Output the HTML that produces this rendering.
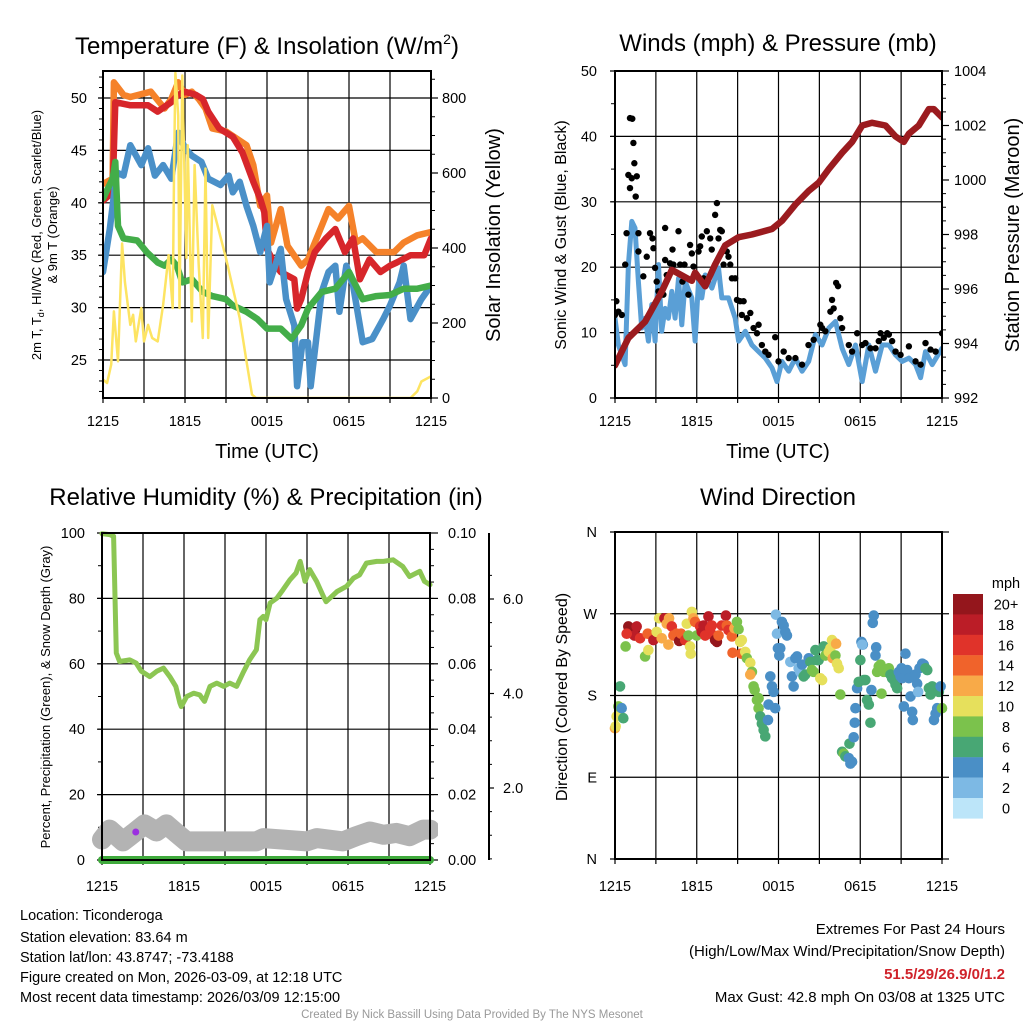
<!DOCTYPE html>
<html><head><meta charset="utf-8"><style>
html,body{margin:0;padding:0;background:#fff;}
svg{display:block;font-family:"Liberation Sans",sans-serif;}
</style></head><body>
<svg id="fig" width="1024" height="1024" viewBox="0 0 1024 1024" xmlns="http://www.w3.org/2000/svg">
<defs>
<clipPath id="c1"><rect x="103" y="71" width="328" height="327"/></clipPath>
<clipPath id="c2"><rect x="615" y="71" width="327" height="327"/></clipPath>
<clipPath id="c3"><rect x="92" y="520" width="346" height="350"/></clipPath>
<clipPath id="c4"><rect x="609" y="532" width="339" height="327"/></clipPath>
</defs>
<g id="g1"></g>
<g id="g2"></g>
<g id="g3"></g>
<g id="g4"></g>
<g font-size="24" text-anchor="middle" fill="#000">
<text x="267" y="54">Temperature (F) &amp; Insolation (W/m<tspan font-size="14" dy="-10">2</tspan><tspan dy="10">)</tspan></text>
<text x="778" y="51">Winds (mph) &amp; Pressure (mb)</text>
<text x="266" y="505">Relative Humidity (%) &amp; Precipitation (in)</text>
<text x="778" y="505">Wind Direction</text>
</g>
<g fill="#000" text-anchor="middle">
<text x="267" y="458" font-size="20">Time (UTC)</text>
<text x="778" y="458" font-size="20">Time (UTC)</text>
<text transform="translate(41,235) rotate(-90)" font-size="13">2m T, T<tspan font-size="9" dy="3">d</tspan><tspan dy="-3">, HI/WC (Red, Green, Scarlet/Blue)</tspan></text>
<text transform="translate(57,235) rotate(-90)" font-size="13">&amp; 9m T (Orange)</text>
<text transform="translate(500,235) rotate(-90)" font-size="20">Solar Insolation (Yellow)</text>
<text transform="translate(566,235) rotate(-90)" font-size="16">Sonic Wind &amp; Gust (Blue, Black)</text>
<text transform="translate(1019,235) rotate(-90)" font-size="20">Station Pressure (Maroon)</text>
<text transform="translate(50,697) rotate(-90)" font-size="13">Percent, Precipitation (Green), &amp; Snow Depth (Gray)</text>
<text transform="translate(567,697) rotate(-90)" font-size="16">Direction (Colored By Speed)</text>
</g>
<g font-size="14.5" fill="#000">
<text x="20" y="920">Location: Ticonderoga</text>
<text x="20" y="942">Station elevation: 83.64 m</text>
<text x="20" y="962">Station lat/lon: 43.8747; -73.4188</text>
<text x="20" y="982">Figure created on Mon, 2026-03-09, at 12:18 UTC</text>
<text x="20" y="1002">Most recent data timestamp: 2026/03/09 12:15:00</text>
</g>
<g font-size="15" fill="#000" text-anchor="end">
<text x="1005" y="934">Extremes For Past 24 Hours</text>
<text x="1005" y="956">(High/Low/Max Wind/Precipitation/Snow Depth)</text>
<text x="1005" y="979" fill="#d0222a" font-weight="bold">51.5/29/26.9/0/1.2</text>
<text x="1005" y="1002">Max Gust: 42.8 mph On 03/08 at 1325 UTC</text>
</g>
<text x="472" y="1018" font-size="11.5" fill="#999" text-anchor="middle">Created By Nick Bassill Using Data Provided By The NYS Mesonet</text>
</svg>
<script>
// ---------- data ----------
const timeLabels=["1215","1815","0015","0615","1215"];
const tempTicks=[25,30,35,40,45,50];
const solarTicks=[0,200,400,600,800];
const windTicks=[0,10,20,30,40,50];
const presTicks=[992,994,996,998,1000,1002,1004];
const rhTicks=[0,20,40,60,80,100];
const precipTicks=["0.00","0.02","0.04","0.06","0.08","0.10"];
const snowTicks=["2.0","4.0","6.0"];
const dirLabels=["N","E","S","W","N"];
const speedBins=["0","2","4","6","8","10","12","14","16","18","20+"];

const t9mH=[0,0.7,0.8,1.5,2,3.5,4.5,5,5.5,6,6.5,7,7.5,8,9,10.5,11,11.5,12,12.3,13,13.5,14.5,15,16,16.5,17.2,18,18.5,19,20,21.3,22,23,24];
const t9mV=[41.8,42.3,51.5,50.3,50.1,50.6,49.0,49.9,51.5,50.3,50.6,49.9,49.0,47.1,46.8,45.5,43.6,39.7,40.7,36.2,39.4,35.9,34.0,34.6,37.8,39.4,38.5,39.7,36.2,36.6,35.3,35.3,36.2,36.9,37.2];
const t2mH=[0,0.7,0.9,2,3.3,4,5,5.5,6,6.8,7.3,7.7,8.5,9.5,10.2,11,11.5,11.8,12,12.5,13,14,14.2,14.5,15,15.5,16.3,17,17.7,18.3,18.8,19.5,20.3,21,21.5,22.5,23.5,24];
const t2mV=[40.2,41.0,49.6,49.3,49.3,48.7,49.6,50.3,50.6,50.3,49.9,48.7,47.1,46.3,44.8,42.0,40.4,39.1,35.6,34.3,33.4,32.7,29.9,30.8,33.4,35.3,36.6,37.5,35.3,36.6,32.7,34.6,33.4,34.0,34.3,35.0,35.0,36.6];
const wcH=[0,0.5,1,1.5,2,2.8,3.3,3.8,4.4,5,5.5,6,6.5,7.2,7.7,8.6,9.2,9.5,10,10.5,11,11.5,12,12.2,13,13.4,14,14.2,14.6,15,15.2,16,16.5,17,17.3,17.8,18.3,19,19.7,20.5,21,21.7,22,22.5,23.3,24];
const wcV=[33.4,37.5,42.9,42.6,45.5,43.6,45.2,42.6,43.6,42.3,46.7,45.2,44.5,43.9,42.3,41.7,42.6,41.0,42.0,39.7,37.8,35.3,37.8,32.4,35.6,30.8,28.3,22.5,26.7,26.7,22.5,31.5,33.4,34.0,29.6,34.0,32.1,26.7,27.0,28.9,30.2,32.4,34.0,28.9,30.8,32.1];
const tdH=[0,0.7,0.9,1.1,1.5,2.5,3.2,4,4.5,5,5.4,5.8,6.5,7.3,8,9,9.5,10.5,11.3,12,13,13.8,14.5,15,16,17,18,18.5,19,20,21,22,23,24];
const tdV=[40.4,42.3,43.9,37.8,36.6,36.4,35.3,34.3,34.0,34.6,34.0,32.4,32.7,31.5,31.1,30.8,30.2,29.6,28.9,28.0,28.0,27.0,28.3,29.9,31.5,31.8,33.4,32.1,30.8,31.1,31.2,31.8,31.8,32.1];
const solH=[0,0.3,0.6,0.8,1.1,1.4,1.6,2,2.2,2.4,2.8,3,3.3,3.6,4,4.4,4.8,5.1,5.2,5.3,5.5,5.6,5.8,6.1,6.2,6.5,6.7,7,7.3,7.5,7.7,8,8.5,9,10,10.5,10.9,11.2,22.5,23,23.3,24];
const solV=[49,40,89,231,98,412,310,195,222,151,240,151,195,160,151,248,381,240,621,867,754,240,860,373,674,204,621,355,160,612,160,514,443,373,213,98,9,0,0,18,44,58];

const windH=[0,0.25,0.74,0.98,1.23,1.47,1.72,1.96,2.21,2.45,2.7,2.94,3.19,3.43,3.68,3.92,4.17,4.41,4.66,4.9,5.15,5.64,5.88,6.13,6.37,6.62,7.11,7.6,7.84,8.33,8.82,9.07,9.56,10.05,10.54,11.03,11.52,11.89,12.25,12.75,13.24,13.73,14.22,14.71,15.2,15.69,16.18,16.67,17.16,17.65,18.14,18.63,19.12,19.61,20.1,20.59,21.08,21.57,22.06,22.43,22.79,23.28,24];
const windV=[12.2,8.1,5.1,20.4,27.0,26.0,17.8,10.7,12.2,8.7,14.3,8.7,20.4,10.2,13.7,12.2,16.3,12.2,18.3,11.2,17.8,15.3,8.7,17.8,15.3,18.8,16.8,19.9,15.3,15.3,12.2,8.7,10.2,8.1,7.1,6.1,4.6,2.5,5.6,4.1,6.1,4.1,5.6,9.7,8.1,10.7,11.7,7.6,5.1,8.1,2.5,8.1,4.1,8.1,8.1,6.6,5.6,6.1,5.1,3.1,7.1,5.1,7.6];
const gustH=[0,0.1,0.25,0.5,0.75,0.85,1.1,1.27,1.35,1.42,0.98,1.1,1.23,1.6,1.52,1.72,1.72,2.08,2.33,2.57,2.75,2.82,2.94,3.06,3.19,3.55,3.68,3.68,3.8,4.04,4.22,4.29,4.66,4.78,4.95,5.1,5.39,5.51,5.64,5.76,6.13,6.25,6.37,6.5,6.74,6.99,7.1,7.35,7.48,7.6,7.72,7.84,7.97,8.2,8.33,8.46,8.58,8.82,8.95,9.19,9.44,9.31,9.68,9.93,10.17,10.42,10.54,10.78,11.03,11.27,11.76,12.0,12.38,12.75,13.24,13.73,14.2,14.58,15.07,15.2,15.44,15.81,15.93,16.05,16.23,16.37,16.54,16.67,17.16,17.4,17.77,18.14,18.38,18.75,19.12,19.36,19.49,19.73,19.98,20.1,20.34,20.59,20.96,21.57,22.06,22.43,22.79,23.16,23.53,24.0];
const gustV=[12.7,14.8,13.2,12.7,20.4,25.2,42.8,42.7,39.0,35.9,34.1,32.1,33.6,33.9,30.8,25.2,22.4,18.6,21.6,25.2,24.4,22.9,19.9,17.8,16.3,15.8,26.0,21.1,18.8,20.6,22.7,20.4,25.5,20.4,17.8,20.4,15.8,23.4,22.1,20.1,22.4,23.2,24.7,18.3,25.5,24.4,22.7,28.0,29.8,24.4,25.7,25.5,20.4,22.4,21.6,20.4,18.3,18.3,15.0,14.8,14.8,12.7,12.2,13.0,10.7,9.9,11.2,8.1,7.1,6.6,9.3,5.6,7.1,6.1,6.1,5.1,8.1,8.9,11.2,10.7,10.2,13.2,15.0,13.7,17.6,17.1,12.2,10.7,8.1,7.1,9.9,8.1,8.4,7.6,7.6,8.7,9.9,9.2,9.9,9.7,8.7,7.1,6.6,7.9,5.6,5.1,8.4,7.4,7.1,9.9];
const presH=[0,0.98,2.21,3.43,4.17,4.9,5.64,5.88,6.62,7.35,8.09,9.07,10.05,11.52,12.25,13.24,14.22,14.95,15.69,16.67,17.4,18.14,18.87,19.85,20.59,21.2,21.57,22.3,23.04,23.4,24];
const presV=[993.2,994.2,994.8,995.9,996.7,996.5,996.3,996.6,996.1,996.9,997.6,997.9,998.0,998.2,998.5,999.1,999.6,999.9,1000.4,1001.0,1001.4,1002.0,1002.1,1002.0,1001.6,1001.4,1001.7,1002.0,1002.6,1002.6,1002.3];

const rhH=[0,0.56,0.85,1.05,1.29,2.03,2.5,2.88,3.5,4,4.5,4.96,5.4,5.7,5.8,6.2,6.7,7.15,7.5,7.9,8.4,8.9,9.35,9.85,10.3,10.8,11.3,11.55,11.8,12,12.3,12.8,13.25,13.75,14.2,14.5,14.85,15.2,15.7,16.2,16.4,17.2,17.9,18.4,18.85,19.35,20.1,20.6,21.3,22,22.5,23.25,23.6,24];
const rhV=[99.8,99.5,99,63.3,60.7,61.2,60.2,57.7,56.1,57.7,58.7,56.1,53.1,48,46.9,50,51,50.5,48.5,53.1,54.1,53.1,54.1,53.1,57.1,61.2,64.3,73.5,74.5,73.5,78.6,80.1,82.7,85.7,87.8,91.3,85.2,88.8,85.2,80.6,79,82.1,83.7,86.2,87.2,90.8,91.3,91.3,91.8,89.8,86.7,88.3,85.2,84.2];
const snowH=[0,0.56,1.54,2.03,3.12,3.98,4.71,5.44,6.18,11.3,11.8,14.97,15.7,17.65,18.6,19.6,20.6,21.55,22.5,23.5,24];
const snowV=[0.91,1.12,0.87,0.98,1.23,1.08,1.23,1.05,0.87,0.87,0.94,0.87,0.94,0.87,0.98,1.08,1.01,1.05,0.98,1.12,1.12];
const precipH=[0,24];
const precipV=[0,0];

const wdH=[0,.05,.12,.25,.49,.61,.37,.78,.98,1.23,1.47,1.42,1.59,.86,1.84,2.21,2.45,2.4,2.82,3.06,3.24,3.43,3.63,3.8,3.97,4.17,4.29,3.92,4.53,4.71,4.85,5.15,5.27,5.39,5.51,5.56,5.64,5.76,5.88,6,6.25,6.37,6.5,6.62,6.86,6.99,7.11,7.23,7.35,7.48,7.6,7.84,8.14,8.21,8.33,8.58,8.63,8.77,8.95,9.07,9.19,9.31,9.26,9.56,9.68,9.93,10.05,9.93,10.17,10.25,10.42,10.54,10.66,10.78,10.91,11.03,10.54,11.27,11.23,11.4,11.52,11.64,11.76,11.81,11.89,11.96,12.13,12.25,12.38,12.5,12.62,12.06,12.87,12.99,13.11,13.24,13.36,13.48,13.6,13.73,13.85,13.97,14.22,14.34,14.46,14.58,14.71,14.83,14.95,15.07,15.2,15.32,15.44,15.69,15.81,15.93,15.98,16.18,16.23,16.3,16.42,16.54,16.67,16.79,16.91,17.16,17.28,17.4,17.21,17.52,17.6,17.65,17.77,17.89,18.01,18.09,18.19,18.14,18.26,18.38,18.5,18.63,18.75,18.82,18.99,18.92,19.17,19.12,19.24,19.36,19.49,19.61,19.56,19.73,19.85,19.98,20.1,20.22,20.34,20.47,20.59,20.71,20.83,20.96,21.03,21.08,21.2,21.32,21.45,21.57,21.69,21.81,21.86,21.94,22.06,22.18,22.25,22.35,22.55,22.67,22.79,22.92,23.04,23.16,23.28,23.41,23.53,23.65,23.77,23.9,24];
const wdDeg=[144,146,157,168,166,155,190,234,256,250,252,246,256,248,243,223,230,248,241,250,265,243,265,259,265,256,246,236,248,240,248,241,259,246,234,226,272,265,261,246,256,250,257,246,267,254,257,246,241,239,246,257,268,257,252,245,227,254,261,253,239,241,226,228,221,216,206,203,190,186,175,166,157,149,142,135,177,170,153,201,190,184,166,269,248,232,232,261,257,250,246,224,217,201,190,221,223,210,206,214,201,203,221,217,208,206,230,219,219,199,197,234,224,228,232,241,221,224,237,215,210,181,118,116,113,111,105,107,127,134,150,166,188,195,219,239,236,236,197,197,175,170,150,186,268,260,233,224,206,212,214,210,182,206,208,206,210,203,199,197,192,188,206,201,210,199,168,226,208,199,179,162,153,201,203,193,184,210,215,214,210,208,188,181,190,153,160,166,184,190,166];
const wdSpd=[12,11,10,8,4,6,6,8,20,20,20,18,18,16,17,8,10,14,18,10,10,12,18,13,13,16,15,12,15,20,15,17,10,8,10,10,10,13,14,8,17,19,18,16,18,17,16,17,20,20,15,16,18,14,17,14,14,12,8,8,10,10,15,10,8,10,8,13,8,8,8,8,6,6,6,6,8,4,4,4,4,4,4,2,3,4,4,4,4,4,4,4,3,4,4,4,4,3,3,4,6,6,4,6,8,8,6,6,6,10,10,6,8,10,11,11,12,8,13,10,10,8,6,8,6,4,4,4,6,4,4,4,4,7,6,4,4,3,6,6,6,6,6,4,4,4,4,4,8,8,8,8,8,8,8,8,8,6,6,6,6,6,4,4,4,4,4,4,4,4,4,4,4,4,4,4,3,4,4,4,6,6,6,6,6,4,4,4,6,4,8];

// ---------- helpers ----------
const NS="http://www.w3.org/2000/svg";
function mk(parent,tag,attrs){const e=document.createElementNS(NS,tag);for(const k in attrs)e.setAttribute(k,attrs[k]);parent.appendChild(e);return e;}
function lin(d0,d1,p0,p1){return v=>p0+(v-d0)/(d1-d0)*(p1-p0);}
function txt(parent,x,y,s,size,anchor){const t=mk(parent,"text",{x:x,y:y,"font-size":size,"text-anchor":anchor,fill:"#000"});t.textContent=s;return t;}
function pathD(hs,vs,X,Y){let d="";for(let i=0;i<hs.length;i++)d+=(i?"L":"M")+X(hs[i]).toFixed(1)+","+Y(vs[i]).toFixed(1);return d;}
const speedColors=["#bce5f9","#7db9e4","#4a8fc6","#48a774","#7bc24c","#e6e05c","#f8aa48","#f0632b","#e0332a","#bb1d27","#94161c"];

function frame(g,x0,x1,y0,y1,vgrid,hgrid){
  const grid=mk(g,"g",{stroke:"#000","stroke-width":1.2});
  
  
  vgrid.forEach(x=>mk(grid,"line",{x1:x,x2:x,y1:y0,y2:y1+5}));
  hgrid.forEach(y=>mk(grid,"line",{x1:x0-5,x2:x1,y1:y,y2:y}));
}
function box(g,x0,x1,y0,y1){const r=mk(g,"rect",{x:x0,y:y0,width:x1-x0,height:y1-y0,fill:"none",stroke:"#000","stroke-width":2});}
function minorTicks(g,x,y0,y1,step,dir,len){const gg=mk(g,"g",{stroke:"#000","stroke-width":1});for(let y=y0;y<=y1+0.1;y+=step)mk(gg,"line",{x1:x,x2:x+dir*len,y1:y,y2:y});}

// ---------- panel 1: temperature ----------
(function(){
 const g=document.getElementById("g1");
 const x0=103,x1=431,y0=71,y1=398;
 const X=lin(0,24,x0,x1), Y=lin(50,25,98,360), YS=lin(0,800,398,98);
 const vg=[];for(let h=3;h<24;h+=3)vg.push(X(h));
 vg.push(x0,x1);
 frame(g,x0,x1,y0,y1,vg,tempTicks.map(Y));
 minorTicks(g,x0,Y(52),Y(22),Y(49)-Y(50),-1,4);
 minorTicks(g,x1,YS(850),YS(0),YS(0)-YS(50),1,4);
 const tk=mk(g,"g",{stroke:"#000","stroke-width":1.2});
 solarTicks.forEach(v=>mk(tk,"line",{x1:x1,x2:x1+7,y1:YS(v),y2:YS(v)}));
 tempTicks.forEach(v=>{const t=txt(g,87,Y(v)+5,String(v),14.5,"end");});
 solarTicks.forEach(v=>{const t=txt(g,442,YS(v)+5,String(v),14.5,"start");});
 timeLabels.forEach((s,i)=>{const t=txt(g,X(i*6),426,s,14.5,"middle");});
 const c=mk(g,"g",{"clip-path":"url(#c1)",fill:"none","stroke-linejoin":"round","stroke-linecap":"round"});
 const s1=mk(c,"path",{d:pathD(t9mH,t9mV,X,Y),stroke:"#f5822a","stroke-width":6.5});
 
 const s2=mk(c,"path",{d:pathD(t2mH,t2mV,X,Y),stroke:"#d7262b","stroke-width":6.5});
 
 const s3=mk(c,"path",{d:pathD(wcH,wcV,X,Y),stroke:"#4a90c8","stroke-width":6.5});
 
 const s4=mk(c,"path",{d:pathD(tdH,tdV,X,Y),stroke:"#43ad49","stroke-width":6.5});
 
 const s5=mk(c,"path",{d:pathD(solH,solV,X,YS),stroke:"#fde462","stroke-width":2.5});
 
 box(g,x0,x1,y0,y1);
})();

// ---------- panel 2: winds ----------
(function(){
 const g=document.getElementById("g2");
 const x0=615,x1=942,y0=71,y1=398;
 const X=lin(0,24,x0,x1), Y=lin(0,50,398,71), YP=lin(992,1004,398,71);
 const vg=[];for(let h=3;h<24;h+=3)vg.push(X(h));
 vg.push(x0,x1);
 frame(g,x0,x1,y0,y1,vg,windTicks.map(Y));
 minorTicks(g,x0,Y(50),Y(0),Y(0)-Y(5),-1,4);
 minorTicks(g,x1,YP(1004),YP(992),YP(992)-YP(992.5),1,4);
 const tk=mk(g,"g",{stroke:"#000","stroke-width":1.2});
 presTicks.forEach(v=>mk(tk,"line",{x1:x1,x2:x1+7,y1:YP(v),y2:YP(v)}));
 windTicks.forEach(v=>{const t=txt(g,597,Y(v)+5,String(v),14.5,"end");});
 presTicks.forEach(v=>{const t=txt(g,954,YP(v)+5,String(v),14.5,"start");});
 timeLabels.forEach((s,i)=>{const t=txt(g,X(i*6),426,s,14.5,"middle");});
 const c=mk(g,"g",{"clip-path":"url(#c2)","stroke-linejoin":"round","stroke-linecap":"round"});
 const w=mk(c,"path",{d:pathD(windH,windV,X,Y),stroke:"#5a9fd6","stroke-width":5,fill:"none"});
 
 const gg=mk(c,"g",{fill:"#000"});
 
 for(let i=0;i<gustH.length;i++){const d=mk(gg,"circle",{cx:X(gustH[i]),cy:Y(gustV[i]),r:3.2});
  
  }
 const p=mk(c,"path",{d:pathD(presH,presV,X,YP),stroke:"#9b1b1f","stroke-width":6.5,fill:"none"});
 
 box(g,x0,x1,y0,y1);
})();

// ---------- panel 3: humidity ----------
(function(){
 const g=document.getElementById("g3");
 const x0=102,x1=430,y0=533,y1=860;
 const X=lin(0,24,x0,x1), Y=lin(0,100,860,533), YPr=lin(0,0.1,860,533), YSn=lin(2,6,788,599);
 const vg=[];for(let h=3;h<24;h+=3)vg.push(X(h));
 vg.push(x0,x1);
 frame(g,x0,x1,y0,y1,vg,rhTicks.map(Y));
 minorTicks(g,x0,Y(100),Y(0),Y(0)-Y(10),-1,4);
 minorTicks(g,x1,Y(100),Y(0),Y(0)-Y(5),1,4);
 const tk=mk(g,"g",{stroke:"#000","stroke-width":1.2});
 rhTicks.forEach(v=>mk(tk,"line",{x1:x1,x2:x1+8,y1:Y(v),y2:Y(v)}));
 const ax=mk(g,"line",{x1:489,x2:489,y1:533,y2:860,stroke:"#000","stroke-width":2});
 
 [2,4,6].forEach(v=>mk(tk,"line",{x1:489,x2:494,y1:YSn(v),y2:YSn(v)}));
 for(let v=0.5;v<7;v+=0.5){const y=YSn(v);if(y>533&&y<860&&v%2!==0)mk(tk,"line",{x1:489,x2:492,y1:y,y2:y,"stroke-width":1});}
 rhTicks.forEach(v=>{const t=txt(g,85,Y(v)+5,String(v),14.5,"end");});
 precipTicks.forEach((s,i)=>{const t=txt(g,448,Y(i*20)+5,s,14.5,"start");});
 snowTicks.forEach((s,i)=>{const t=txt(g,503,YSn((i+1)*2)+5,s,14.5,"start");});
 timeLabels.forEach((s,i)=>{const t=txt(g,X(i*6),891,s,14.5,"middle");});
 const c=mk(g,"g",{"clip-path":"url(#c3)",fill:"none","stroke-linejoin":"round","stroke-linecap":"round"});
 const sn=mk(c,"path",{d:pathD(snowH,snowV,X,YSn),stroke:"#b3b3b3","stroke-width":20});
 
 const pr=mk(c,"path",{d:pathD(precipH,precipV,X,YPr),stroke:"#3faa3c","stroke-width":8});
 
 const rh=mk(c,"path",{d:pathD(rhH,rhV,X,Y),stroke:"#8cc653","stroke-width":5});
 
 const pu=mk(g,"circle",{cx:X(2.47),cy:832,r:3.5,fill:"#9b30e0"});
 
 box(g,x0,x1,y0,y1);
})();

// ---------- panel 4: wind direction ----------
(function(){
 const g=document.getElementById("g4");
 const x0=615,x1=942,y0=532,y1=859;
 const X=lin(0,24,x0,x1), Y=lin(0,360,859,532);
 const vg=[];for(let h=3;h<24;h+=3)vg.push(X(h));
 vg.push(x0,x1);
 frame(g,x0,x1,y0,y1,vg,[0,90,180,270,360].map(Y));
 const tk=mk(g,"g",{stroke:"#000","stroke-width":1.2});
 [0,90,180,270,360].forEach(v=>mk(tk,"line",{x1:x1,x2:x1+7,y1:Y(v),y2:Y(v)}));
 dirLabels.forEach((s,i)=>{const t=txt(g,597,Y(i*90)+5,s,14.5,"end");});
 timeLabels.forEach((s,i)=>{const t=txt(g,X(i*6),891,s,14.5,"middle");});
 const c=mk(g,"g",{"clip-path":"url(#c4)"});
 for(let i=0;i<wdH.length;i++){
  const b=Math.min(10,Math.floor(wdSpd[i]/2));
  const d=mk(c,"circle",{cx:X(wdH[i]),cy:Y(wdDeg[i]),r:5.3,fill:speedColors[b]});
  
  
 }
 box(g,x0,x1,y0,y1);
 const lg=mk(g,"g",{});
 
 const t0=txt(lg,1006,588,"mph",14.5,"middle");
 
 for(let i=0;i<speedBins.length;i++){
  const k=speedBins.length-1-i, yy=594+i*20.4;
  const r=mk(lg,"rect",{x:953,y:yy,width:30,height:20.6,fill:speedColors[k]});
  
  const t=txt(lg,1006,yy+15.5,speedBins[k],14.5,"middle");
  
 }
})();
</script>
</body></html>
